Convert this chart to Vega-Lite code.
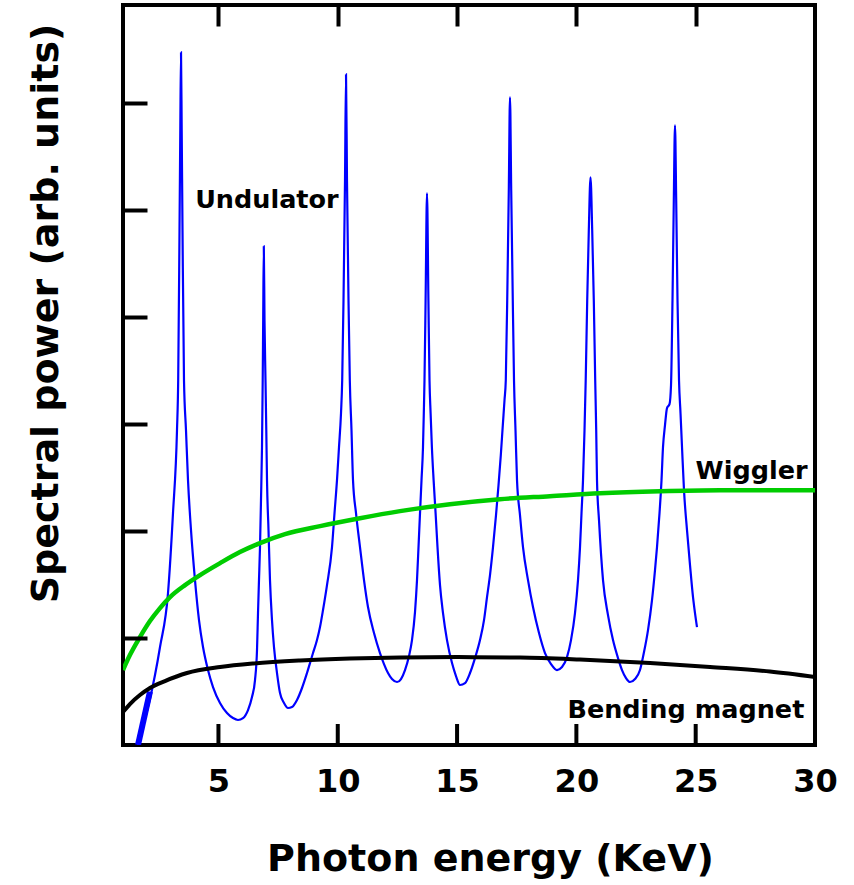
{
  "$schema": "https://vega.github.io/schema/vega-lite/v6.json",
  "width": 692,
  "height": 740,
  "autosize": {"type": "none"},
  "padding": {"left": 123, "top": 5, "right": 39, "bottom": 140},
  "background": "white",
  "config": {"view": {"stroke": "black", "strokeWidth": 4}, "font": "DejaVu Sans"},
  "resolve": {"axis": {"x": "independent", "y": "independent"}},
  "layer": [
    {
      "data": {"values": [
        {"e":1.629,"p":0},{"e":2.551,"p":0.916},{"e":2.886,"p":1.421},{"e":3.095,"p":2.168},{"e":3.263,"p":2.944},{"e":3.313,"p":3.411},{"e":3.368,"p":4.813},{"e":3.401,"p":5.748},{"e":3.431,"p":6.477},{"e":3.460,"p":5.748},{"e":3.494,"p":4.813},{"e":3.556,"p":3.411},{"e":3.640,"p":2.944},{"e":3.724,"p":2.477},{"e":3.850,"p":2.009},{"e":4.017,"p":1.542},{"e":4.185,"p":1.168},{"e":4.353,"p":0.916},{"e":4.562,"p":0.701},{"e":4.772,"p":0.542},{"e":5.065,"p":0.393},{"e":5.358,"p":0.299},{"e":5.610,"p":0.252},{"e":5.819,"p":0.234},{"e":6.029,"p":0.252},{"e":6.239,"p":0.327},{"e":6.406,"p":0.449},{"e":6.532,"p":0.607},{"e":6.616,"p":0.888},{"e":6.658,"p":1.234},{"e":6.699,"p":1.542},{"e":6.741,"p":1.850},{"e":6.783,"p":2.290},{"e":6.825,"p":2.785},{"e":6.855,"p":3.411},{"e":6.875,"p":3.972},{"e":6.901,"p":4.664},{"e":6.930,"p":3.972},{"e":6.972,"p":3.411},{"e":7.005,"p":2.944},{"e":7.035,"p":2.477},{"e":7.098,"p":2.009},{"e":7.160,"p":1.542},{"e":7.244,"p":1.168},{"e":7.328,"p":0.916},{"e":7.454,"p":0.673},{"e":7.580,"p":0.486},{"e":7.747,"p":0.393},{"e":7.915,"p":0.346},{"e":8.082,"p":0.355},{"e":8.292,"p":0.421},{"e":8.502,"p":0.533},{"e":8.711,"p":0.673},{"e":8.963,"p":0.860},{"e":9.130,"p":0.981},{"e":9.256,"p":1.103},{"e":9.382,"p":1.262},{"e":9.549,"p":1.495},{"e":9.759,"p":1.850},{"e":9.864,"p":2.168},{"e":9.968,"p":2.477},{"e":10.052,"p":2.785},{"e":10.136,"p":3.103},{"e":10.186,"p":3.411},{"e":10.241,"p":4.159},{"e":10.304,"p":5.280},{"e":10.346,"p":6.271},{"e":10.387,"p":5.280},{"e":10.450,"p":4.159},{"e":10.505,"p":3.411},{"e":10.576,"p":2.944},{"e":10.639,"p":2.477},{"e":10.765,"p":2.168},{"e":10.932,"p":1.850},{"e":11.100,"p":1.542},{"e":11.267,"p":1.290},{"e":11.519,"p":1.047},{"e":11.770,"p":0.860},{"e":11.938,"p":0.757},{"e":12.106,"p":0.673},{"e":12.273,"p":0.617},{"e":12.483,"p":0.589},{"e":12.650,"p":0.617},{"e":12.818,"p":0.701},{"e":12.986,"p":0.832},{"e":13.111,"p":0.981},{"e":13.237,"p":1.243},{"e":13.321,"p":1.542},{"e":13.384,"p":1.850},{"e":13.447,"p":2.168},{"e":13.510,"p":2.477},{"e":13.572,"p":2.785},{"e":13.606,"p":3.103},{"e":13.635,"p":3.411},{"e":13.681,"p":4.159},{"e":13.740,"p":5.159},{"e":13.799,"p":4.159},{"e":13.845,"p":3.411},{"e":13.891,"p":3.103},{"e":13.945,"p":2.785},{"e":14.017,"p":2.477},{"e":14.100,"p":2.168},{"e":14.180,"p":1.850},{"e":14.285,"p":1.495},{"e":14.411,"p":1.234},{"e":14.578,"p":0.981},{"e":14.788,"p":0.766},{"e":14.955,"p":0.645},{"e":15.123,"p":0.561},{"e":15.333,"p":0.579},{"e":15.542,"p":0.673},{"e":15.752,"p":0.813},{"e":15.961,"p":0.981},{"e":16.129,"p":1.168},{"e":16.255,"p":1.383},{"e":16.380,"p":1.589},{"e":16.506,"p":1.850},{"e":16.632,"p":2.150},{"e":16.737,"p":2.430},{"e":16.833,"p":2.710},{"e":16.917,"p":2.991},{"e":16.988,"p":3.224},{"e":17.042,"p":3.411},{"e":17.114,"p":4.346},{"e":17.168,"p":5.187},{"e":17.218,"p":6.056},{"e":17.269,"p":5.187},{"e":17.323,"p":4.346},{"e":17.386,"p":3.411},{"e":17.449,"p":2.944},{"e":17.512,"p":2.477},{"e":17.637,"p":2.150},{"e":17.763,"p":1.850},{"e":17.973,"p":1.542},{"e":18.182,"p":1.290},{"e":18.434,"p":1.047},{"e":18.685,"p":0.860},{"e":18.937,"p":0.757},{"e":19.188,"p":0.701},{"e":19.398,"p":0.729},{"e":19.607,"p":0.822},{"e":19.775,"p":0.981},{"e":19.942,"p":1.234},{"e":20.068,"p":1.542},{"e":20.152,"p":1.850},{"e":20.215,"p":2.168},{"e":20.278,"p":2.477},{"e":20.341,"p":2.944},{"e":20.391,"p":3.411},{"e":20.454,"p":4.159},{"e":20.521,"p":4.813},{"e":20.592,"p":5.308},{"e":20.663,"p":4.813},{"e":20.730,"p":4.159},{"e":20.789,"p":3.411},{"e":20.831,"p":2.944},{"e":20.864,"p":2.477},{"e":20.948,"p":2.103},{"e":21.116,"p":1.542},{"e":21.325,"p":1.215},{"e":21.535,"p":0.981},{"e":21.744,"p":0.813},{"e":21.912,"p":0.701},{"e":22.080,"p":0.626},{"e":22.247,"p":0.589},{"e":22.457,"p":0.617},{"e":22.666,"p":0.701},{"e":22.834,"p":0.869},{"e":23.002,"p":1.075},{"e":23.169,"p":1.355},{"e":23.295,"p":1.636},{"e":23.379,"p":1.850},{"e":23.484,"p":2.168},{"e":23.568,"p":2.477},{"e":23.630,"p":2.785},{"e":23.714,"p":2.991},{"e":23.798,"p":3.150},{"e":23.903,"p":3.187},{"e":23.966,"p":3.364},{"e":24.028,"p":4.159},{"e":24.083,"p":5.093},{"e":24.133,"p":5.794},{"e":24.183,"p":5.093},{"e":24.238,"p":4.159},{"e":24.301,"p":3.411},{"e":24.364,"p":3.103},{"e":24.427,"p":2.785},{"e":24.510,"p":2.383},{"e":24.636,"p":2.009},{"e":24.762,"p":1.682},{"e":24.888,"p":1.383},{"e":24.971,"p":1.234},{"e":25.055,"p":1.103}
      ]},
      "mark": {"type": "line", "color": "#0000ff", "strokeWidth": 2.2, "interpolate": "monotone", "clip": true},
      "encoding": {
        "x": {"field": "e", "type": "quantitative", "scale": {"domain": [1, 30], "nice": false, "zero": false},
          "axis": {"orient": "bottom", "values": [5, 10, 15, 20, 25, 30], "domain": false, "grid": false, "zindex": 1, "ticks": false,
            "labelFont": "DejaVu Sans", "labelFontWeight": "bold", "labelFontSize": 32, "labelColor": "black", "labelPadding": 21, "labelFlush": false, "labelOverlap": false,
            "title": "Photon energy (KeV)", "titleFont": "DejaVu Sans", "titleFontSize": 38, "titleFontWeight": "bold", "titleColor": "black", "titleX": 367, "titleY": 125, "titleBaseline": "alphabetic", "titleAlign": "center"}},
        "y": {"field": "p", "type": "quantitative", "scale": {"domain": [0, 6.92], "nice": false},
          "axis": {"orient": "left", "values": [1, 2, 3, 4, 5, 6], "domain": false, "grid": false, "zindex": 1, "labels": false, "tickSize": -24, "tickWidth": 4, "tickColor": "black",
            "title": "Spectral power (arb. units)", "titleFont": "DejaVu Sans", "titleFontSize": 38, "titleFontWeight": "bold", "titleColor": "black", "titleX": -66, "titleY": 308, "titleBaseline": "alphabetic", "titleAlign": "center", "titleAngle": -90}}
      }
    },
    {
      "data": {"values": [{"e":1.629,"p":0},{"e":2.13,"p":0.50}]},
      "mark": {"type": "line", "color": "#0000ff", "strokeWidth": 6, "clip": true},
      "encoding": {
        "x": {"field": "e", "type": "quantitative", "axis": null},
        "y": {"field": "p", "type": "quantitative", "axis": null}
      }
    },
    {
      "data": {"values": [
        {"e":1.00,"p":0.701},{"e":1.29,"p":0.841},{"e":1.71,"p":1.009},{"e":2.13,"p":1.159},{"e":2.55,"p":1.280},{"e":2.97,"p":1.383},{"e":3.60,"p":1.495},{"e":4.23,"p":1.589},{"e":5.07,"p":1.701},{"e":5.90,"p":1.804},{"e":6.74,"p":1.888},{"e":7.79,"p":1.972},{"e":9.26,"p":2.047},{"e":10.93,"p":2.121},{"e":12.61,"p":2.187},{"e":14.70,"p":2.252},{"e":16.80,"p":2.299},{"e":18.89,"p":2.327},{"e":20.99,"p":2.355},{"e":23.50,"p":2.374},{"e":26.02,"p":2.383},{"e":30.00,"p":2.383}
      ]},
      "mark": {"type": "line", "color": "#00cc00", "strokeWidth": 4.5, "interpolate": "monotone", "clip": true},
      "encoding": {
        "x": {"field": "e", "type": "quantitative",
          "axis": {"orient": "top", "values": [5, 10, 15, 20, 25], "domain": false, "grid": false, "zindex": 1, "labels": false, "tickSize": -21, "tickWidth": 4, "tickColor": "black", "title": null}},
        "y": {"field": "p", "type": "quantitative", "axis": null}
      }
    },
    {
      "data": {"values": [
        {"e":1.00,"p":0.308},{"e":1.29,"p":0.383},{"e":1.71,"p":0.467},{"e":2.13,"p":0.533},{"e":2.76,"p":0.598},{"e":3.68,"p":0.673},{"e":5.07,"p":0.729},{"e":6.45,"p":0.762},{"e":8.42,"p":0.790},{"e":10.51,"p":0.808},{"e":12.61,"p":0.818},{"e":15.04,"p":0.822},{"e":17.64,"p":0.818},{"e":20.15,"p":0.799},{"e":23.09,"p":0.766},{"e":25.60,"p":0.729},{"e":28.11,"p":0.687},{"e":30.00,"p":0.636}
      ]},
      "mark": {"type": "line", "color": "black", "strokeWidth": 4, "interpolate": "monotone", "clip": true},
      "encoding": {
        "x": {"field": "e", "type": "quantitative", "axis": null},
        "y": {"field": "p", "type": "quantitative", "axis": null}
      }
    },
    {
      "data": {"values": [{"e":5},{"e":10},{"e":15},{"e":20},{"e":25}]},
      "mark": {"type": "tick", "orient": "vertical", "color": "black", "thickness": 4, "size": 21, "yOffset": -10.5, "opacity": 1},
      "encoding": {
        "x": {"field": "e", "type": "quantitative", "axis": null},
        "y": {"datum": 0, "type": "quantitative", "axis": null}
      }
    },
    {
      "data": {"values": [
        {"e":7.03,"p":5.02,"t":"Undulator"},
        {"e":27.34,"p":2.49,"t":"Wiggler"},
        {"e":24.59,"p":0.25,"t":"Bending magnet"}
      ]},
      "mark": {"type": "text", "font": "DejaVu Sans", "fontWeight": "bold", "fontSize": 25.5, "color": "black", "align": "center", "baseline": "alphabetic"},
      "encoding": {
        "x": {"field": "e", "type": "quantitative", "axis": null},
        "y": {"field": "p", "type": "quantitative", "axis": null},
        "text": {"field": "t"}
      }
    }
  ]
}
